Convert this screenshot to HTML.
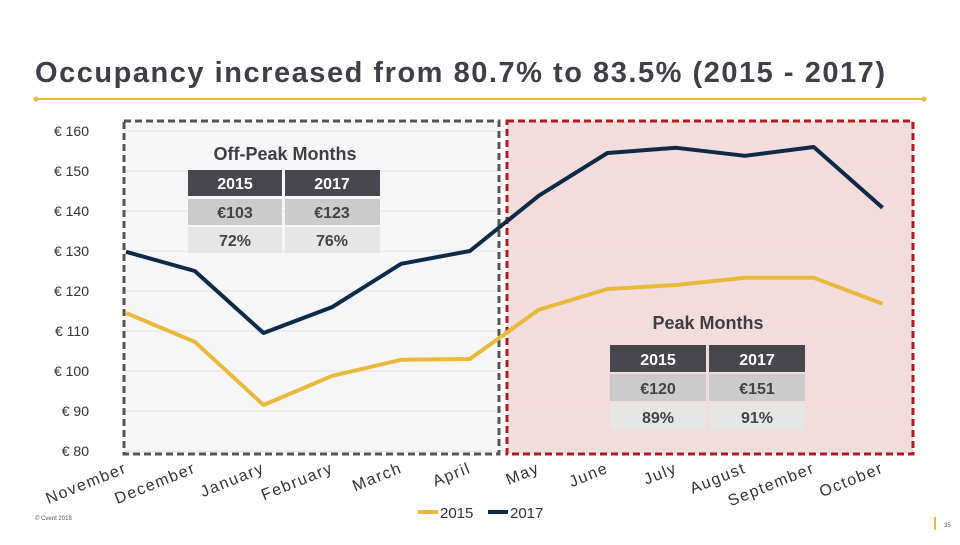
<!DOCTYPE html>
<html><head><meta charset="utf-8"><style>
body{margin:0;width:960px;height:540px;background:#fff;font-family:"Liberation Sans",sans-serif;overflow:hidden}
svg text{font-family:"Liberation Sans",sans-serif}
</style></head><body>
<svg width="960" height="540">
<text x="35" y="82" font-size="29" font-weight="bold" fill="#3f3f46" textLength="850">Occupancy increased from 80.7% to 83.5% (2015 - 2017)</text>
<line x1="35" y1="99" x2="925" y2="99" stroke="#e8b93c" stroke-width="2"/>
<circle cx="36" cy="99" r="2.5" fill="#e8b93c"/><circle cx="924" cy="99" r="2.5" fill="#e8b93c"/>
<rect x="124" y="121" width="375" height="333" fill="#f6f6f6"/>
<rect x="507" y="121" width="406" height="333" fill="#f2dcdc"/>
<g id="grid"></g>
<rect x="124" y="121" width="375" height="333" fill="none" stroke="#555" stroke-width="3" stroke-dasharray="7,4"/>
<rect x="507" y="121" width="406" height="333" fill="none" stroke="#b01c24" stroke-width="3" stroke-dasharray="7,4"/>
<g id="yticks"></g>
<g id="series"></g>
<g id="xlabels"></g>
<g>
<text x="285" y="160" font-size="18" font-weight="bold" fill="#3f3f46" text-anchor="middle">Off-Peak Months</text>
<rect x="188" y="170" width="94" height="26" fill="#48474d"/><rect x="285" y="170" width="95" height="26" fill="#48474d"/>
<rect x="188" y="199" width="94" height="26" fill="#cbcbcb"/><rect x="285" y="199" width="95" height="26" fill="#cbcbcb"/>
<rect x="188" y="227" width="94" height="26" fill="#e6e6e6"/><rect x="285" y="227" width="95" height="26" fill="#e6e6e6"/>
<g font-size="16" font-weight="bold" text-anchor="middle"><text x="235" y="189" fill="#fff">2015</text><text x="332" y="189" fill="#fff">2017</text>
<text x="235" y="218" fill="#444">€103</text><text x="332" y="218" fill="#444">€123</text>
<text x="235" y="246" fill="#444">72%</text><text x="332" y="246" fill="#444">76%</text></g>
</g>
<g>
<text x="708" y="329" font-size="18" font-weight="bold" fill="#3f3f46" text-anchor="middle">Peak Months</text>
<rect x="610" y="345" width="96" height="27" fill="#48474d"/><rect x="709" y="345" width="96" height="27" fill="#48474d"/>
<rect x="610" y="374" width="96" height="27" fill="#cbcbcb"/><rect x="709" y="374" width="96" height="27" fill="#cbcbcb"/>
<rect x="610" y="403" width="96" height="27" fill="#e6e6e6"/><rect x="709" y="403" width="96" height="27" fill="#e6e6e6"/>
<g font-size="16" font-weight="bold" text-anchor="middle"><text x="658" y="365" fill="#fff">2015</text><text x="757" y="365" fill="#fff">2017</text>
<text x="658" y="394" fill="#444">€120</text><text x="757" y="394" fill="#444">€151</text>
<text x="658" y="423" fill="#444">89%</text><text x="757" y="423" fill="#444">91%</text></g>
</g>
<g>
<line x1="418" y1="512" x2="438" y2="512" stroke="#e8b93c" stroke-width="4"/><text x="440" y="518" font-size="15" fill="#333">2015</text>
<line x1="488" y1="512" x2="508" y2="512" stroke="#0f2a45" stroke-width="4"/><text x="510" y="518" font-size="15" fill="#333">2017</text>
</g>
<text x="35" y="520" font-size="6" fill="#555">© Cvent 2018</text>
<line x1="935" y1="517" x2="935" y2="530" stroke="#e8b93c" stroke-width="2"/>
<text x="944" y="527" font-size="6" fill="#555">35</text>
</svg>
<script>
const months=["November","December","January","February","March","April","May","June","July","August","September","October"];
const s2015=[114.5,107.3,91.5,98.8,102.8,103,115.3,120.5,121.5,123.3,123.3,116.8];
const s2017=[129.8,125,109.5,116,126.8,130,143.8,154.5,155.8,153.8,156,140.8];
const yTicks=[80,90,100,110,120,130,140,150,160];
const NS="http://www.w3.org/2000/svg";
const y=v=>131+(160-v)*4;
const x=i=>126+i*68777/1000;
function mk(t,a,p){const e=document.createElementNS(NS,t);for(const k in a)e.setAttribute(k,a[k]);p.appendChild(e);return e;}
const grid=document.getElementById('grid'),yt=document.getElementById('yticks');
yTicks.forEach(v=>{
 const l=mk('line',{x1:124,x2:913,y1:y(v),y2:y(v),stroke:'#e2e2e2','stroke-width':1},grid);
 
 
 const t=mk('text',{x:89,y:y(v)+5,'font-size':14,fill:'#333','text-anchor':'end'},yt);
 t.textContent='€ '+v;
 
 
});
const sg=document.getElementById('series');
[[s2015,'#e8b93c','line-2015'],[s2017,'#0f2a45','line-2017']].forEach(([d,c,n])=>{
 const p=mk('polyline',{points:d.map((v,i)=>x(i)+','+y(v)).join(' '),fill:'none',stroke:c,'stroke-width':4,'stroke-linejoin':'round'},sg);
 
 
});
const xl=document.getElementById('xlabels');
months.forEach((m,i)=>{
 const t=mk('text',{'font-size':16,fill:'#333','text-anchor':'end','letter-spacing':'1.5',transform:`translate(${x(i)+2},${472}) rotate(-22)`},xl);
 t.textContent=m;
 
 
});
</script>
</body></html>
